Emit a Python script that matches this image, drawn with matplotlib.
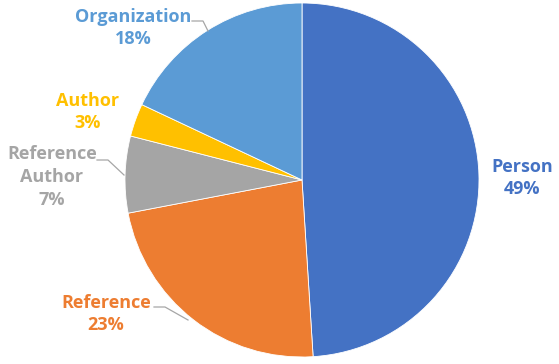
import matplotlib
matplotlib.use("Agg")
import matplotlib.pyplot as plt

labels = ["Person", "Reference", "Reference\nAuthor", "Author", "Organization"]
values = [49, 23, 7, 3, 18]
colors = ["#4472C4", "#ED7D31", "#A5A5A5", "#FFC000", "#5B9BD5"]
pct_labels = ["49%", "23%", "7%", "3%", "18%"]

W, H = 559, 364
fig = plt.figure(figsize=(W / 100, H / 100), dpi=100)
ax = fig.add_axes([0, 0, 1, 1])

cx, cy, r = 302, H - 180, 177
ax.pie(values, colors=colors, startangle=90, counterclock=False,
       center=(cx, cy), radius=r, frame=True,
       wedgeprops=dict(edgecolor="white", linewidth=0.6))
ax.set_xlim(0, W)
ax.set_ylim(0, H)
ax.set_aspect("equal")
ax.axis("off")

# label positions (pixel coords, y from top)
label_pos = [(522, 178), (106, 314), (52, 177), (88, 112), (133, 28)]
fs = 13
for lab, pct, col, (x, y) in zip(labels, pct_labels, colors, label_pos):
    ax.text(x, H - y, lab + "\n" + pct, ha="center", va="center", color=col,
            fontsize=fs, fontweight="bold", family="Open Sans", linespacing=1.33)

# leader lines
lc = "#A6A6A6"
leaders = [
    [(192, 21), (203, 21), (208, 31)],
    [(97, 160), (108, 160), (124, 175)],
    [(154, 307), (165, 307), (188, 320)],
]
for pts in leaders:
    xs = [p[0] for p in pts]
    ys = [H - p[1] for p in pts]
    ax.plot(xs, ys, color=lc, linewidth=0.9)

fig.savefig("out.png", dpi=100)
